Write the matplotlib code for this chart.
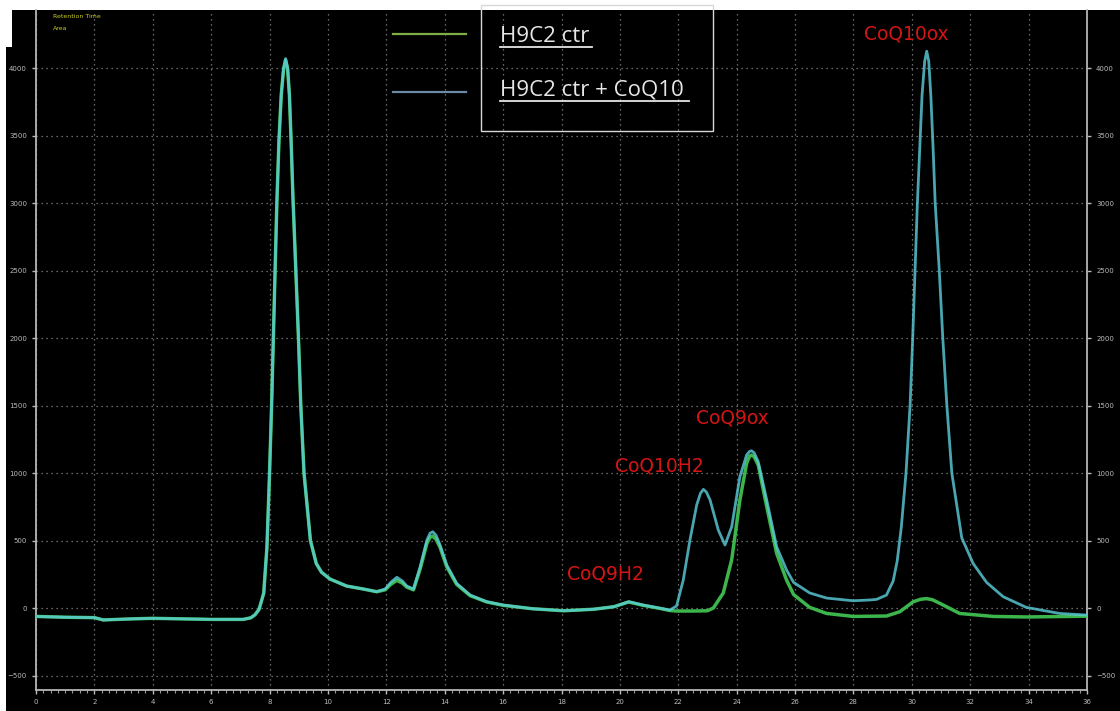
import matplotlib
matplotlib.use("Agg")
import matplotlib.pyplot as plt
from matplotlib.patches import Rectangle
from matplotlib.lines import Line2D
from matplotlib.ticker import MultipleLocator

# ---------------- data ----------------
blue_x = [0, 1, 2.0, 2.3, 3.3, 4, 5, 6, 7.1, 7.36, 7.5, 7.64, 7.8, 7.91, 8.0, 8.07,
          8.13, 8.19, 8.25, 8.32, 8.4, 8.48, 8.55, 8.62, 8.68, 8.74, 8.8, 8.9, 8.99,
          9.07, 9.18, 9.4, 9.6, 9.78, 10.07, 10.64, 11.21, 11.67, 11.96, 12.15, 12.36,
          12.55, 12.7, 12.93, 13.16, 13.39, 13.5, 13.59, 13.7, 13.84, 14.07, 14.41,
          14.87, 15.44, 16.01, 17.0, 18.08, 19.1, 19.8, 20.3, 20.8, 21.4, 21.71, 21.94,
          22.17, 22.4, 22.63, 22.76, 22.86, 22.96, 23.09, 23.37, 23.6, 23.83, 24.11,
          24.34, 24.44, 24.51, 24.6, 24.74, 25.03, 25.37, 25.71, 25.95, 26.5, 27.08,
          27.99, 28.57, 28.79, 29.13, 29.36, 29.5, 29.64, 29.8, 29.94, 30.03, 30.11,
          30.19, 30.27, 30.35, 30.44, 30.51, 30.58, 30.65, 30.72, 30.8, 30.94, 31.06,
          31.2, 31.37, 31.71, 32.1, 32.56, 33.13, 33.92, 35.06, 36]
blue_y = [-62, -68, -71, -88, -80, -76, -80, -84, -84, -72, -50, -10, 110, 450, 1000, 1500,
          2000, 2500, 3000, 3450, 3800, 4000, 4070, 4000, 3800, 3450, 3050, 2500, 2000,
          1500, 1000, 500, 330, 265, 215, 163, 141, 121, 141, 190, 228,
          200, 163, 141, 306, 504, 555, 565, 540, 467, 319, 183,
          96, 47, 22, -5, -20, -9, 10, 47, 22, -2, -15, 15,
          207, 504, 763, 850, 879, 860, 800, 578, 467, 602, 973,
          1133, 1160, 1165, 1150, 1084, 800, 454, 281, 190, 112, 74,
          54, 60, 64, 96, 200, 350, 600, 1000, 1500, 2000, 2500,
          3000, 3400, 3800, 4050, 4125, 4050, 3800, 3450, 3000, 2500, 2000,
          1500, 1000, 520, 330, 190, 84, 5, -40, -52]

green_x = [0, 1, 2.0, 2.3, 3.3, 4, 5, 6, 7.1, 7.36, 7.5, 7.64, 7.8, 7.91, 8.0, 8.07,
           8.13, 8.19, 8.25, 8.32, 8.4, 8.48, 8.55, 8.62, 8.68, 8.74, 8.8, 8.9, 8.99,
           9.07, 9.18, 9.4, 9.6, 9.78, 10.07, 10.64, 11.21, 11.67, 11.96, 12.15, 12.36,
           12.55, 12.7, 12.93, 13.16, 13.39, 13.5, 13.59, 13.7, 13.84, 14.07, 14.41,
           14.87, 15.44, 16.01, 17.0, 18.08, 19.1, 19.8, 20.3, 20.8, 21.4, 21.71, 21.94,
           22.5, 23.0, 23.2, 23.54, 23.83, 24.11, 24.34, 24.44, 24.51, 24.6, 24.74,
           25.03, 25.37, 25.71, 25.95, 26.5, 27.08, 28.0, 29.13, 29.59, 30.05, 30.3,
           30.5, 30.7, 30.96, 31.64, 32.78, 33.92, 35.0, 36]
green_y = [-62, -68, -71, -88, -80, -76, -80, -84, -84, -72, -50, -10, 110, 450, 1000, 1500,
           2000, 2500, 3000, 3450, 3800, 3990, 4060, 3990, 3800, 3450, 3050, 2500, 2000,
           1500, 1000, 500, 330, 265, 215, 163, 141, 121, 135, 175, 205,
           185, 155, 135, 290, 480, 525, 533, 510, 450, 305, 175,
           92, 45, 20, -5, -20, -9, 10, 45, 20, -4, -18, -22,
           -22, -20, 0, 111, 358, 800, 1071, 1125, 1133, 1120, 1059,
           750, 405, 207, 100, 5, -40, -62, -59, -27, 47, 65,
           70, 62, 35, -40, -62, -66, -63, -60]

x_ticks = list(range(0, 37, 2))
y_ticks = list(range(-500, 4001, 500))
legend_labels = ["H9C2 ctr", "H9C2 ctr + CoQ10"]
peak_labels = ["CoQ10ox", "CoQ9ox", "CoQ10H2", "CoQ9H2"]

# ---------------- figure ----------------
W, H = 1120, 711
fig = plt.figure(figsize=(W / 100, H / 100), dpi=100, facecolor="white")


def fx(px):
    return px / W


def fy(py):
    return 1 - py / H


# black canvas
fig.patches.append(Rectangle((fx(6), 0), 1 - fx(6), fy(10), transform=fig.transFigure,
                             facecolor="black", edgecolor="none", zorder=-5))
fig.patches.append(Rectangle((fx(6), fy(47)), fx(6), fy(10) - fy(47), transform=fig.transFigure,
                             facecolor="white", edgecolor="none", zorder=-4))

ax = fig.add_axes([fx(36), fy(690), fx(1087) - fx(36), fy(10) - fy(690)])
ax.set_zorder(1)
ax.set_facecolor("black")
ax.set_xlim(0, 36)
ax.set_ylim(-607, 4430)

ax.plot(green_x, green_y, color="#3cb54c", lw=2.5, solid_joinstyle="round",
        solid_capstyle="round", zorder=3)
ax.plot(blue_x, blue_y, color="#5ccfdc", lw=2.0, alpha=0.8, solid_joinstyle="round",
        solid_capstyle="round", zorder=4)

ax.set_xticks(x_ticks)
ax.set_yticks(y_ticks)
ax.xaxis.set_minor_locator(MultipleLocator(0.25))
ax.tick_params(axis="both", which="major", colors="#bbbbbb", labelsize=5, length=3, width=1)
ax.tick_params(axis="x", which="minor", colors="#999999", length=2, width=0.8)
ax.tick_params(axis="y", right=True, labelright=True)
ax.grid(True, which="major", color="#a0a0a0", linestyle=(0, (1, 3)), linewidth=0.9, alpha=0.85)

for s in ["left", "right", "bottom"]:
    ax.spines[s].set_color("#b5b5b5")
    ax.spines[s].set_linewidth(1.3)
ax.spines["top"].set_visible(False)

# small yellow header text
fig.text(fx(53), fy(16), "Retention Time", color="#c9c92a", fontsize=4.5, va="center", zorder=10)
fig.text(fx(53), fy(29), "Area", color="#c9c92a", fontsize=4.5, va="center", zorder=10)

# legend
fig.patches.append(Rectangle((fx(481), fy(131)), fx(713) - fx(481), fy(5) - fy(131),
                             transform=fig.transFigure, facecolor="none",
                             edgecolor="#d8d8d8", linewidth=1.0, zorder=5))
leg_colors = ["#7fae45", "#6a8aa6"]
leg_y = [34, 92]
text_y = [36, 90]
under_x = [592, 689]
for lab, c, ly, ty, ux in zip(legend_labels, leg_colors, leg_y, text_y, under_x):
    fig.lines.append(Line2D([fx(393), fx(466)], [fy(ly), fy(ly)], transform=fig.transFigure,
                            color=c, lw=1.6, zorder=6))
    fig.text(fx(500), fy(ty), lab, color="#e6e6e6", fontsize=16, family="Open Sans",
             va="center", ha="left", zorder=7)
    fig.lines.append(Line2D([fx(500), fx(ux)], [fy(ty + 11), fy(ty + 11)], transform=fig.transFigure,
                            color="#e6e6e6", lw=1.3, zorder=7))

# peak annotations
red = "#d41515"
ann_px = [(906, 34), (732, 418), (659, 466), (605, 574)]
for lab, (px, py) in zip(peak_labels, ann_px):
    fig.text(fx(px), fy(py), lab, color=red, fontsize=13.5, family="DejaVu Sans",
             ha="center", va="center", zorder=8)

fig.savefig("out.png", dpi=100, facecolor=fig.get_facecolor())
